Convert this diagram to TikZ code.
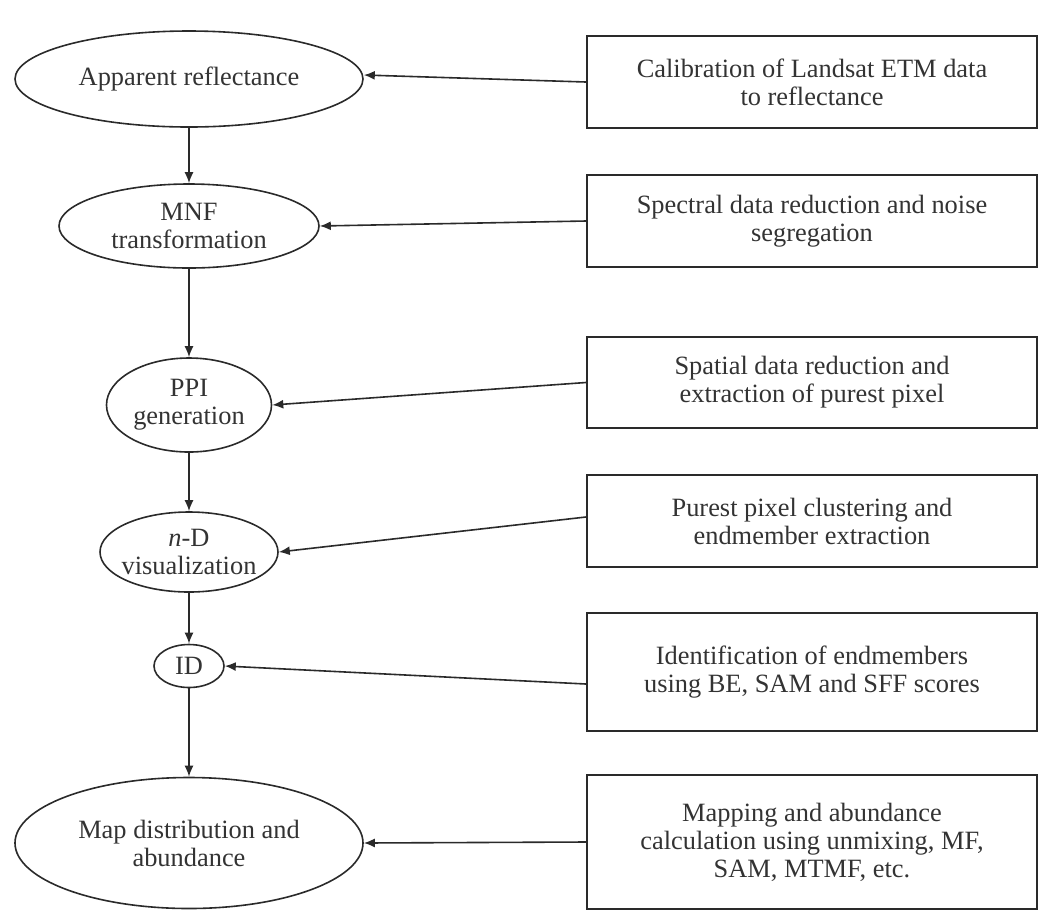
\documentclass[tikz,border=0pt]{standalone}
\usepackage{fontspec}
\setmainfont{Liberation Serif}
\usepackage{tikz}
\usetikzlibrary{arrows.meta,shapes.geometric}
\definecolor{flowline}{HTML}{2A2A2A}
\definecolor{flowtext}{HTML}{333333}

\begin{document}
\begin{tikzpicture}[x=0.5pt,y=-0.5pt,
  every node/.style={font=\fontsize{13.2}{14}\selectfont,text=flowtext,align=center},
  stage/.style={ellipse,draw=flowline,line width=0.8pt,inner sep=-3pt},
  task/.style={rectangle,draw=flowline,line width=1.1pt,minimum width=225pt,inner sep=0pt},
  feed/.style={draw=flowline,line width=0.8pt,-{Latex[length=5.5pt,width=4.5pt]}}]
  \useasboundingbox (0,0) rectangle (1040,912);
  % processing stages (left column)
  \node[stage,minimum width=174pt,minimum height=48pt] (refl) at (189,79) {Apparent reflectance};
  \node[stage,minimum width=130pt,minimum height=42pt] (mnf) at (189,226) {MNF\\transformation};
  \node[stage,minimum width=82.5pt,minimum height=47pt] (ppi) at (189,405) {PPI\\generation};
  \node[stage,minimum width=89pt,minimum height=40pt] (ndv) at (189,552) {\textit{n}-D\\visualization};
  \node[stage,minimum width=35pt,minimum height=21.5pt] (ident) at (189,666) {ID};
  \node[stage,minimum width=174pt,minimum height=65.5pt] (mapab) at (189,843) {Map distribution and\\abundance};
  % descriptions (right column)
  \node[task,minimum height=46pt] (calib) at (812,82) {Calibration of Landsat ETM data\\to reflectance};
  \node[task,minimum height=46pt] (spec) at (812,221) {Spectral data reduction and noise\\segregation};
  \node[task,minimum height=45.5pt] (spat) at (812,382.5) {Spatial data reduction and\\extraction of purest pixel};
  \node[task,minimum height=46pt] (clust) at (812,521) {Purest pixel clustering and\\endmember extraction};
  \node[task,minimum height=59pt] (idtask) at (812,672) {Identification of endmembers\\using BE, SAM and SFF scores};
  \node[task,minimum height=67pt] (maptask) at (812,842) {Mapping and abundance\\calculation using unmixing, MF,\\SAM, MTMF, etc.};
  % flow down the stages
  \draw[feed] (refl) -- (mnf);
  \draw[feed] (mnf) -- (ppi);
  \draw[feed] (ppi) -- (ndv);
  \draw[feed] (ndv) -- (ident);
  \draw[feed] (ident) -- (mapab);
  % descriptions into stages
  \draw[feed] (calib.west) -- ([yshift=2pt]refl.east);
  \draw[feed] (spec.west) -- (mnf.east);
  \draw[feed] (spat.west) -- (ppi.east);
  \draw[feed] ([yshift=2pt]clust.west) -- (ndv.east);
  \draw[feed] ([yshift=-6pt]idtask.west) -- (ident.east);
  \draw[feed] (maptask.west) -- (mapab.east);
\end{tikzpicture}
\end{document}
